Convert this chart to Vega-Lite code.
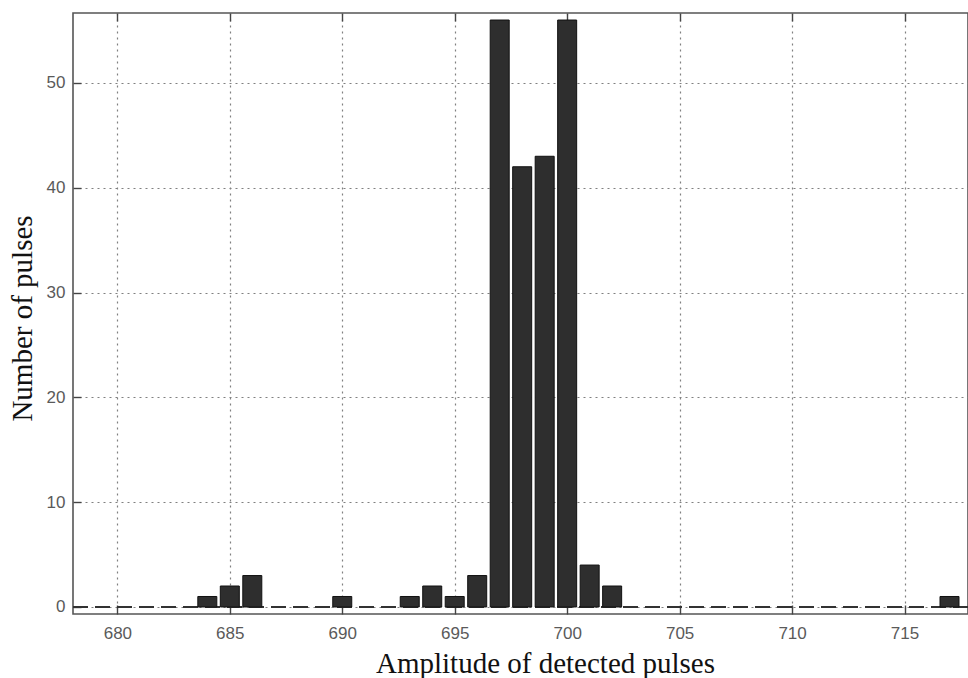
{
  "$schema": "https://vega.github.io/schema/vega-lite/v6.json",
  "width": 895,
  "height": 601,
  "autosize": {"type": "none"},
  "padding": {"left": 73, "top": 13, "right": 0, "bottom": 64},
  "background": "white",
  "config": {
    "view": {"stroke": "#555", "strokeWidth": 1.6},
    "axis": {
      "domain": false,
      "labelFont": "Liberation Sans",
      "labelFontSize": 17,
      "labelColor": "#5a5a5a",
      "tickColor": "#444",
      "tickWidth": 1.4,
      "gridColor": "#808080",
      "gridDash": [2, 4],
      "gridWidth": 1.2,
      "titleFont": "Liberation Serif",
      "titleFontSize": 29,
      "titleFontWeight": "normal",
      "titleColor": "#111"
    }
  },
  "data": {
    "values": [
      {"amp": 684, "count": 1},
      {"amp": 685, "count": 2},
      {"amp": 686, "count": 3},
      {"amp": 690, "count": 1},
      {"amp": 693, "count": 1},
      {"amp": 694, "count": 2},
      {"amp": 695, "count": 1},
      {"amp": 696, "count": 3},
      {"amp": 697, "count": 56},
      {"amp": 698, "count": 42},
      {"amp": 699, "count": 43},
      {"amp": 700, "count": 56},
      {"amp": 701, "count": 4},
      {"amp": 702, "count": 2},
      {"amp": 717, "count": 1}
    ]
  },
  "layer": [
    {
      "mark": {"type": "rule", "color": "#333", "strokeDash": [15, 7], "strokeWidth": 1.3},
      "encoding": {"y": {"datum": 0, "type": "quantitative"}}
    },
    {
      "mark": {"type": "bar", "width": 19, "fill": "#2e2e2e", "stroke": "#111", "strokeWidth": 1},
      "encoding": {
        "x": {
          "field": "amp",
          "type": "quantitative",
          "scale": {"domain": [678.25, 717.6], "nice": false, "zero": false},
          "axis": {
            "orient": "bottom",
            "values": [680, 685, 690, 695, 700, 705, 710, 715],
            "grid": true,
            "tickSize": -9,
            "labelPadding": 20,
            "title": "Amplitude of detected pulses",
            "titleX": 472,
            "titleY": 58,
            "titleAlign": "center",
            "titleBaseline": "alphabetic"
          }
        },
        "y": {
          "field": "count",
          "type": "quantitative",
          "scale": {"domain": [-0.67, 56.67], "nice": false, "zero": false},
          "axis": {
            "values": [0, 10, 20, 30, 40, 50],
            "grid": true,
            "tickSize": -8,
            "labelPadding": 16,
            "title": "Number of pulses",
            "titleAngle": 270,
            "titleX": -42,
            "titleY": 305,
            "titleAlign": "center",
            "titleBaseline": "alphabetic"
          }
        },
        "y2": {"datum": 0}
      }
    },
    {
      "mark": {"type": "tick", "opacity": 0},
      "encoding": {
        "x": {
          "field": "amp",
          "type": "quantitative",
          "axis": {
            "orient": "top",
            "values": [680, 685, 690, 695, 700, 705, 710, 715],
            "labels": false,
            "grid": false,
            "tickSize": -8,
            "title": null
          }
        }
      }
    }
  ],
  "resolve": {"axis": {"x": "independent"}}
}
